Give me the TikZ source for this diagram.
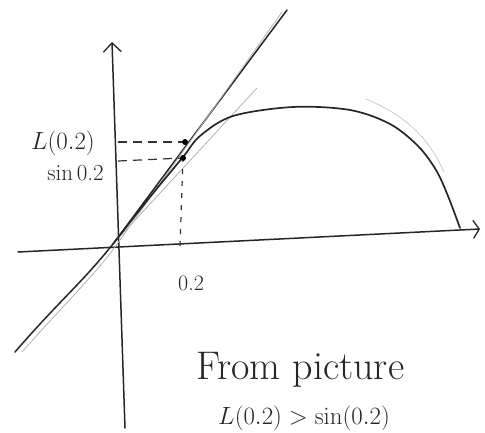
\documentclass[tikz,border=0pt]{standalone}
\usetikzlibrary{arrows.meta}
\begin{document}
\begin{tikzpicture}[x=1pt,y=-1pt,
  pen/.style={line width=1.5pt,draw=black!85,line cap=round,line join=round},
  faint/.style={line width=0.8pt,draw=black!30},
  guide/.style={line width=1.2pt,draw=black!80,dash pattern=on 9pt off 6pt},
  dotpt/.style={circle,fill=black,inner sep=0pt,minimum size=6pt},
  lbl/.style={inner sep=0pt,text=black!85}]
\useasboundingbox (0,0) rectangle (485,432);
% axes
\coordinate (ybot) at (125,428);
\coordinate (ytop) at (112,42);
\coordinate (xl) at (18,252);
\coordinate (xr) at (480,229);
\draw[pen,-{Straight Barb[length=9pt,width=18pt,line width=1.3pt]}] (ybot) -- (ytop);
\draw[pen,-{Straight Barb[length=6pt,width=18pt,line width=1.3pt]}] (xl) -- (xr);
% tangent line and faint strokes
\coordinate (O) at (113,244);
\coordinate (t1) at (15,352);
\coordinate (t2) at (287,10);
\draw[pen] (t1) .. controls (60,300) and (80,285) .. (O) -- (t2);
\draw[faint] (22,352) .. controls (70,298) and (90,280) .. (115,247) -- (282,12);
\coordinate (f2) at (257,88);
\draw[faint] (O) -- (f2);
\draw[faint,draw=black!20] (366,99) .. controls (412,118) and (432,145) .. (444,172);
% curve
\draw[pen,line width=1.7pt] plot[smooth,tension=0.55] coordinates {
  (113,244) (150,197) (183,157) (200,136) (233,116) (293,107) (350,110)
  (390,124) (418,146) (436,170) (448,196) (460,228)};
% points
\node[dotpt] (pL) at (185,142) {};
\node[dotpt] (pS) at (183,158) {};
\coordinate (yL) at (118,142);
\coordinate (yS) at (118,161);
\coordinate (xa) at (180,246);
\draw[guide] (yL) -- (pL);
\draw[guide] (yS) -- (pS);
\draw[guide,dash pattern=on 5pt off 7pt] (xa) -- (pS);
% labels
\node[lbl,font=\fontsize{29}{30}\selectfont,anchor=east] (labL) at (95,143) {$L(0.2)$};
\node[lbl,font=\fontsize{23}{25}\selectfont,anchor=east] (labS) at (104,173) {sin\,0.2};
\node[lbl,font=\fontsize{22}{24}\selectfont] (lab02) at (191,283) {0.2};
\node[lbl,font=\fontsize{40}{44}\selectfont,anchor=west] (from) at (196,370) {From picture};
\node[lbl,font=\fontsize{30}{34}\selectfont,anchor=south west] (ineq) at (218,431) {$L(0.2) > \sin(0.2)$};
\end{tikzpicture}
\end{document}
